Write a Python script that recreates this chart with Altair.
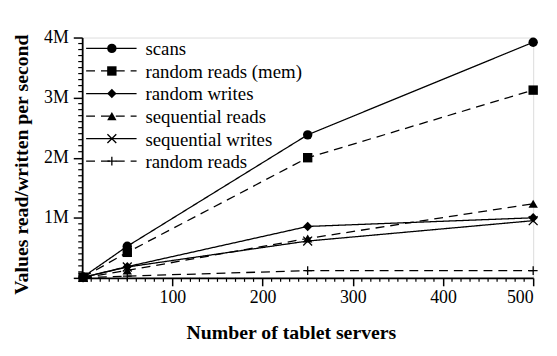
import altair as alt
import pandas as pd

servers = [1, 50, 250, 500]
series = ["scans", "random reads (mem)", "random writes",
          "sequential reads", "sequential writes", "random reads"]
scans = [15000, 526000, 2381000, 3921000]
random_reads_mem = [11000, 425000, 2000000, 3125000]
random_writes = [9000, 187000, 856000, 1000000]
sequential_reads = [4000, 123000, 656000, 1234000]
sequential_writes = [9000, 181000, 613000, 952000]
random_reads = [1000, 30000, 120000, 120000]

values = [scans, random_reads_mem, random_writes,
          sequential_reads, sequential_writes, random_reads]

x_major = [100, 200, 300, 400, 500]
x_minor = [v for v in range(10, 500, 10) if v % 100 != 0]
y_major = [0, 1000000, 2000000, 3000000, 4000000]
y_minor = [v for v in range(100000, 4000000, 100000) if v % 1000000 != 0]

rows = []
for s, vals in zip(series, values):
    for n, v in zip(servers, vals):
        rows.append({"series": s, "servers": n, "value": v})
df = pd.DataFrame(rows)
leg = pd.DataFrame({"series": series, "idx": list(range(len(series)))})
xm = pd.DataFrame({"servers": x_minor})
ym = pd.DataFrame({"value": y_minor})

FONT = "Liberation Serif"
shape_paths = ["circle", "square", "diamond", "triangle-up",
               "M-1,-1L1,1M-1,1L1,-1", "M-1,0L1,0M0,-1L0,1"]
dash_range = [[1, 0], [9, 6], [1, 0], [9, 6], [1, 0], [9, 6]]
shape_scale = alt.Scale(domain=series, range=shape_paths)
dash_scale = alt.Scale(domain=series, range=dash_range)
filled_series = series[:4]
open_series = series[4:]

xscale = alt.Scale(domain=[0, 500], nice=False, zero=False)
yscale = alt.Scale(domain=[0, 4000000], nice=False, zero=False)
X = alt.X("servers:Q", scale=xscale)
Y = alt.Y("value:Q", scale=yscale)

base = alt.Chart(df)

lines = base.mark_line(color="black", strokeWidth=1.3).encode(
    x=alt.X("servers:Q", scale=xscale,
            axis=alt.Axis(values=x_major, title="Number of tablet servers",
                          orient="bottom", tickSize=8, labelPadding=3,
                          titleX=211, titleY=61, titleBaseline="alphabetic")),
    y=alt.Y("value:Q", scale=yscale,
            axis=alt.Axis(values=y_major, title="Values read/written per second",
                          orient="left", tickSize=9, labelPadding=5,
                          labelExpr="datum.value == 0 ? '' : format(datum.value/1000000, 'd') + 'M'",
                          titleX=-61, titleY=128, titleAngle=270,
                          titleBaseline="middle", titleAlign="center")),
    detail="series:N",
    strokeDash=alt.StrokeDash("series:N", scale=dash_scale, legend=None),
)

xminor = alt.Chart(xm).mark_rule(color="black", strokeWidth=1.2).encode(
    x=X, y=alt.value(243), y2=alt.value(247),
)
yminor = alt.Chart(ym).mark_rule(color="black", strokeWidth=1.2).encode(
    y=Y, x=alt.value(-4), x2=alt.value(0),
)

pts_filled = base.transform_filter(
    alt.FieldOneOfPredicate(field="series", oneOf=filled_series)
).mark_point(filled=True, color="black", opacity=1, size=90).encode(
    x=X, y=Y,
    shape=alt.Shape("series:N", scale=shape_scale, legend=None),
)

pts_open = base.transform_filter(
    alt.FieldOneOfPredicate(field="series", oneOf=open_series)
).mark_point(filled=False, color="black", opacity=1, size=80, strokeWidth=1.3).encode(
    x=X, y=Y,
    shape=alt.Shape("series:N", scale=shape_scale, legend=None),
)

lbase = alt.Chart(leg).transform_calculate(ly="11 + datum.idx * 22.8")
LY = alt.Y("ly:Q", scale=None)

leg_lines = lbase.mark_rule(color="black", strokeWidth=1.3).encode(
    x=alt.value(4), x2=alt.value(55), y=LY,
    strokeDash=alt.StrokeDash("series:N", scale=dash_scale, legend=None),
)
leg_pf = lbase.transform_filter(
    alt.FieldOneOfPredicate(field="series", oneOf=filled_series)
).mark_point(filled=True, color="black", opacity=1, size=90).encode(
    x=alt.value(30), y=LY,
    shape=alt.Shape("series:N", scale=shape_scale, legend=None),
)
leg_po = lbase.transform_filter(
    alt.FieldOneOfPredicate(field="series", oneOf=open_series)
).mark_point(filled=False, color="black", opacity=1, size=80, strokeWidth=1.3).encode(
    x=alt.value(30), y=LY,
    shape=alt.Shape("series:N", scale=shape_scale, legend=None),
)
leg_text = lbase.mark_text(align="left", baseline="middle", font=FONT,
                           fontSize=19, color="black", dy=1).encode(
    x=alt.value(64), y=LY,
    text="series:N",
)

chart = alt.layer(
    lines, xminor, yminor, pts_filled, pts_open,
    leg_lines, leg_pf, leg_po, leg_text
).properties(
    width=456, height=243,
    autosize=alt.AutoSizeParams(type="none"),
    padding={"left": 75, "top": 28, "right": 16, "bottom": 66},
).configure_view(stroke=None).configure(background="white").configure_axis(
    grid=False, tickWidth=1.5, domainWidth=1.8, domainColor="black",
    tickColor="black", labelFont=FONT, labelFontSize=18, labelColor="black",
    titleFont=FONT, titleFontSize=20, titleFontWeight="bold", titleColor="black",
)

chart.save("out.html", embed_options={"renderer": "svg", "actions": False})
